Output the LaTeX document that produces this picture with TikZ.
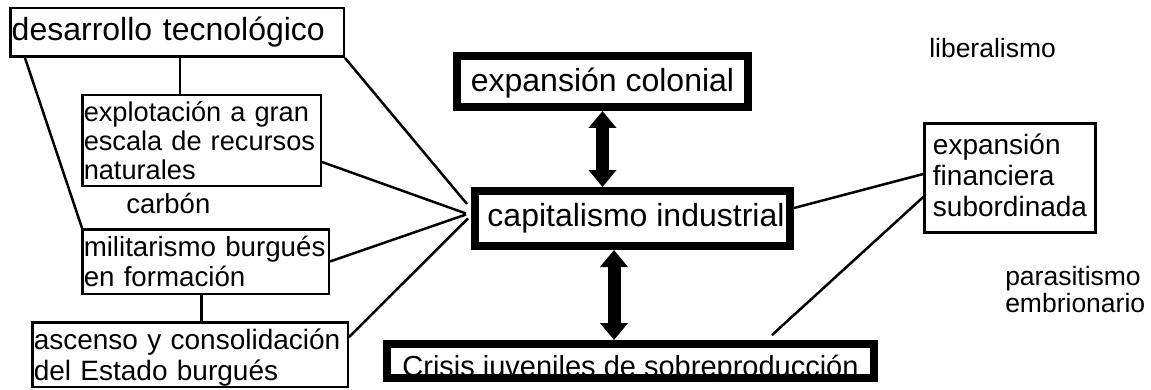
\documentclass[tikz,border=0pt]{standalone}
\usepackage{fontspec}
\setmainfont{Liberation Sans}
\usetikzlibrary{arrows.meta}

\begin{document}
\begin{tikzpicture}[x=1pt,y=1pt,line width=2.5pt,
  thin box/.style={draw,line width=2.5pt,inner xsep=1.5pt,inner ysep=0pt,align=left},
  thick box/.style={draw,line width=8pt,inner sep=0pt,font=\fontsize{32}{36}\selectfont},
  word/.style={inner sep=0pt,align=left,font=\fontsize{26.5}{27}\selectfont},
  big arrow/.style={line width=13pt,{Triangle[width=27pt,length=17pt]}-{Triangle[width=27pt,length=17pt]}}]
       \path[use as bounding box,fill=white] (0,0) rectangle (1151,389);

       % left column
       \node[thin box,minimum width=333.5pt,minimum height=48.5pt,text width=330.5pt,
             font=\fontsize{32}{36}\selectfont] (tec) at (177,356.5) {desarrollo tecnológico};
       \node[thin box,minimum width=238.5pt,minimum height=90.5pt,text width=235.5pt,
             font=\fontsize{27.2}{29}\selectfont] (expl) at (201.5,248.5)
             {explotación a gran\\escala de recursos\\naturales};
       \node[word,anchor=base west,font=\fontsize{27.5}{30}\selectfont] (carb) at (125,176) {carbón};
       \node[thin box,minimum width=246.5pt,minimum height=64.5pt,text width=243.5pt,
             font=\fontsize{27.7}{30}\selectfont] (milit) at (205.5,127.5)
             {militarismo burgués\\en formación};
       \node[thin box,minimum width=315.5pt,minimum height=64.5pt,text width=312.5pt,text depth=30pt,
             font=\fontsize{28}{31}\selectfont] (asc) at (190,34.5)
             {ascenso y consolidación\\del Estado burgués};

       % centre column
       \node[thick box,minimum width=291pt,minimum height=51pt,text depth=3pt] (colon) at (602.5,307.5) {expansión colonial};
       \node[thick box,minimum width=315pt,minimum height=55pt] (cap) at (632.5,170.5) {\hspace*{7pt}capitalismo industrial};
       \node[thick box,minimum width=487pt,minimum height=34pt,text height=32pt,text depth=2pt,
             font=\fontsize{29}{32}\selectfont] (crisis) at (630.5,28) {Crisis juveniles de sobreproducción};

       % right column
       \node[word,anchor=base west] (lib) at (928,331) {liberalismo};
       \node[thin box,minimum width=171pt,minimum height=109pt,text depth=6pt,
             font=\fontsize{28}{31}\selectfont] (fin) at (1010,211)
             {expansión\\financiera\\subordinada};
       \node[word,anchor=north west] (paras) at (1004,123.5) {parasitismo\\embrionario};

       \draw ([xshift=3pt]tec.south) -- ([xshift=3pt]tec.south |- expl.north);
       \draw ([xshift=16pt]tec.south west) -- ([xshift=1pt]milit.north west);
       \draw ([xshift=-4pt]milit.south) -- ([xshift=-4pt]milit.south |- asc.north);
       \draw (tec.south east) -- ([xshift=-4pt,yshift=14.5pt]cap.west);
       \draw ([yshift=-21.5pt]expl.east) -- ([xshift=-5pt,yshift=5pt]cap.west);
       \draw (milit.east) -- ([xshift=-5pt,yshift=4pt]cap.west);
       \draw ([yshift=17.5pt]asc.east) -- ([xshift=-3pt]cap.west);
       \draw ([yshift=10.5pt]cap.east) -- ([yshift=4pt]fin.west);
       \draw ([xshift=-106pt,yshift=5pt]crisis.north east) -- ([yshift=-19pt]fin.west);

       \draw[big arrow] (colon.south) -- (colon.south |- cap.north);
       \draw[big arrow] ([xshift=-18.5pt]cap.south) -- ([xshift=-18.5pt]cap.south |- crisis.north);
\end{tikzpicture}
\end{document}
